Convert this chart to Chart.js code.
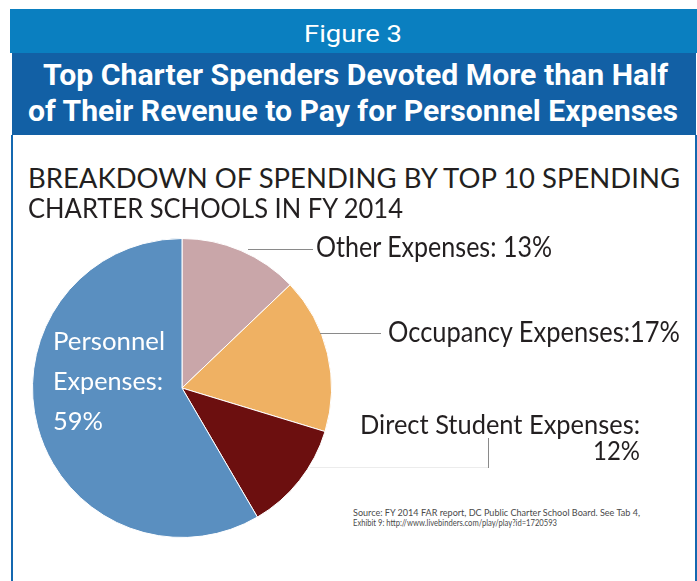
<!DOCTYPE html>
<html>
<head>
<meta charset="utf-8">
<script src="https://cdn.jsdelivr.net/npm/chart.js@4.4.1/dist/chart.umd.min.js"></script>
<style>
  html, body { margin: 0; padding: 0; background: #ffffff; }
  body { width: 697px; height: 581px; position: relative; overflow: hidden; }
  .abs { position: absolute; white-space: nowrap; transform-origin: 0 0; line-height: 1; }
  #band1 { position: absolute; left: 10px; top: 9px; width: 687px; height: 44px; background: #0a7fc0; }
  #band2 { position: absolute; left: 12px; top: 53px; width: 684px; height: 82px; background: #1260a5; }
  #panel { position: absolute; left: 11px; top: 135px; width: 682px; height: 470px;
           border-left: 2px solid #1468b0; border-right: 2px solid #1468b0; background: #fff; }
  #chartBox { position: absolute; left: 22px; top: 228px; width: 320px; height: 320px; }
  .line { position: absolute; background: #8a8a8a; }
</style>
</head>
<body>
<div id="band1"></div>
<div id="band2"></div>
<div id="panel"></div>
<div id="chartBox"><canvas id="c"></canvas></div>
<div class="line" style="left:248px; top:249px; width:65px; height:1px;"></div>
<div class="line" style="left:320px; top:333px; width:61px; height:1px;"></div>
<div class="line" style="left:310px; top:467px; width:178px; height:1px; background:#ececec;"></div>
<div class="line" style="left:488px; top:438px; width:1px; height:30px;"></div>
<div id="texts"></div>
<script>
// ---- data ----
const categories = ['Other Expenses', 'Occupancy Expenses', 'Direct Student Expenses', 'Personnel Expenses'];
const values = [13, 17, 12, 59];
const sliceColors = ['#c9a6a9', '#efb163', '#6c0f0f', '#5a8fc0'];

const figureLabel = 'Figure 3';
const titleLines = ['Top Charter Spenders Devoted More than Half', 'of Their Revenue to Pay for Personnel Expenses'];
const subtitleLines = ['BREAKDOWN OF SPENDING BY TOP 10 SPENDING', 'CHARTER SCHOOLS IN FY 2014'];
const sourceLines = ['Source: FY 2014 FAR report, DC Public Charter School Board. See Tab 4,',
                     'Exhibit 9: http://www.livebinders.com/play/play?id=1720593'];

// ---- chart ----
new Chart(document.getElementById('c'), {
  type: 'pie',
  data: {
    labels: categories,
    datasets: [{
      data: values,
      backgroundColor: sliceColors,
      borderColor: '#ffffff',
      borderWidth: 1
    }]
  },
  options: {
    responsive: true,
    maintainAspectRatio: false,
    animation: false,
    layout: { padding: 10 },
    plugins: { legend: { display: false }, tooltip: { enabled: false } }
  }
});

// ---- text (real DOM text, fitted to reference widths) ----
const host = document.getElementById('texts');
function addText(str, opts) {
  const el = document.createElement('div');
  el.className = 'abs';
  el.textContent = str;
  el.style.fontFamily = opts.family;
  el.style.fontSize = opts.size + 'px';
  el.style.fontWeight = opts.weight || 'normal';
  el.style.color = opts.color;
  el.style.top = (opts.cy - opts.size * (opts.k || 0.52)) + 'px';
  host.appendChild(el);
  const w = el.getBoundingClientRect().width;
  const sx = opts.width / w;
  let left = opts.x;
  if (opts.align === 'center') left = opts.x - opts.width / 2;
  if (opts.align === 'right') left = opts.x - opts.width;
  el.style.left = left + 'px';
  el.style.transform = 'scaleX(' + sx + ')';
  return el;
}
const bodyFont = 'Lato, "Open Sans", sans-serif';
const headFont = 'Roboto, "Liberation Sans", sans-serif';

addText(figureLabel, {family: headFont, size: 23, color: '#ffffff', x: 353, cy: 35, width: 98, align: 'center'});
addText(titleLines[0], {family: headFont, size: 29, weight: 'bold', color: '#ffffff', x: 43, cy: 76, width: 625});
addText(titleLines[1], {family: headFont, size: 29, weight: 'bold', color: '#ffffff', x: 28, cy: 112, width: 650});

addText(subtitleLines[0], {family: bodyFont, size: 27, color: '#231f20', x: 28, cy: 178, width: 652});
addText(subtitleLines[1], {family: bodyFont, size: 27, color: '#231f20', x: 28, cy: 208, width: 375});

addText(categories[0] + ': ' + values[0] + '%', {family: bodyFont, size: 28, color: '#231f20', x: 316, cy: 247, width: 236});
addText(categories[1] + ':' + values[1] + '%', {family: bodyFont, size: 28, color: '#231f20', x: 388, cy: 332, width: 292});
addText(categories[2] + ':', {family: bodyFont, size: 27.5, color: '#231f20', x: 360, cy: 424, width: 280});
addText(values[2] + '%', {family: bodyFont, size: 27.5, color: '#231f20', x: 640, cy: 450, width: 47, align: 'right'});

const pParts = categories[3].split(' ');
addText(pParts[0], {family: bodyFont, size: 25.5, color: '#ffffff', x: 53, cy: 341, width: 112});
addText(pParts[1] + ':', {family: bodyFont, size: 25.5, color: '#ffffff', x: 53, cy: 381, width: 110});
addText(values[3] + '%', {family: bodyFont, size: 25.5, color: '#ffffff', x: 53, cy: 421, width: 50});

addText(sourceLines[0], {family: bodyFont, size: 9.5, color: '#4a4a4a', x: 353, cy: 513, width: 287});
addText(sourceLines[1], {family: bodyFont, size: 9.5, color: '#4a4a4a', x: 353, cy: 523, width: 204});
</script>
</body>
</html>
